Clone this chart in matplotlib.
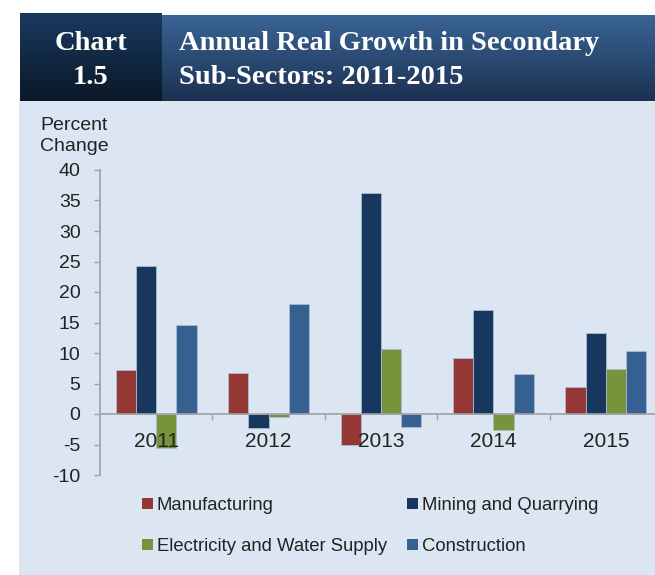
import numpy as np
import matplotlib
matplotlib.use("Agg")
import matplotlib.pyplot as plt
from matplotlib.colors import LinearSegmentedColormap
from matplotlib.patches import Rectangle, Patch

years = ["2011", "2012", "2013", "2014", "2015"]
series_names = ["Manufacturing", "Mining and Quarrying",
                "Electricity and Water Supply", "Construction"]
manufacturing = [7.2, 6.8, -5.1, 9.2, 4.4]
mining = [24.2, -2.3, 36.2, 17.0, 13.3]
electricity = [-5.6, -0.55, 10.7, -2.7, 7.4]
construction = [14.6, 18.1, -2.1, 6.6, 10.3]
colors = ["#953735", "#17375e", "#77933c", "#376092"]

plt.rcParams["font.family"] = ["Liberation Sans", "DejaVu Sans"]
plt.rcParams["axes.unicode_minus"] = False

W, H = 655, 575
fig = plt.figure(figsize=(W / 100, H / 100), dpi=100)
fig.patch.set_facecolor("white")


def fbox(x0, y0, x1, y1):
    # pixel box (top-left origin) -> figure fraction rect
    return [x0 / W, 1 - y1 / H, (x1 - x0) / W, (y1 - y0) / H]


# light panel behind the chart
fig.patches.append(Rectangle((19 / W, 0), 1 - 19 / W, 1 - 101 / H,
                             transform=fig.transFigure, facecolor="#dce6f2",
                             edgecolor="none", zorder=-5))


def gradient_box(rect, top, bottom):
    gax = fig.add_axes(rect)
    cmap = LinearSegmentedColormap.from_list("g", [top, bottom])
    grad = np.linspace(0, 1, 100).reshape(-1, 1)
    gax.imshow(grad, aspect="auto", cmap=cmap, extent=[0, 1, 1, 0])
    gax.set_axis_off()
    return gax


gradient_box(fbox(162, 15, 655, 101), "#3a6496", "#1b3150")
gradient_box(fbox(20, 13, 162, 101), "#193a60", "#0b1828")

hdr = dict(color="white", fontsize=20.5, fontweight="bold",
           family=["Liberation Serif", "DejaVu Serif"], va="center")
fig.text(91 / W, 1 - 43 / H, "Chart", ha="center", **hdr)
fig.text(91 / W, 1 - 77 / H, "1.5", ha="center", **hdr)
fig.text(179 / W, 1 - 43 / H, "Annual Real Growth in Secondary", ha="left", **hdr)
fig.text(179 / W, 1 - 77 / H, "Sub-Sectors: 2011-2015", ha="left", **hdr)

# main chart
ax = fig.add_axes(fbox(100, 170, 662, 475))
ax.set_facecolor("none")
ax.set_axisbelow(False)  # year labels sit on top of the bars
x = np.arange(len(years))
bw = 0.18
for j, vals in enumerate([manufacturing, mining, electricity, construction]):
    ax.bar(x + (j - 1.5) * bw, vals, width=bw, color=colors[j],
           edgecolor="#a9bcd3", linewidth=0.6, zorder=1)

ax.set_xlim(-0.5, 4.5)
ax.set_ylim(-10, 40)
ax.set_yticks(np.arange(-10, 41, 5))
ax.tick_params(axis="y", direction="out", length=4, width=1,
               color="#a0a0a0", labelsize=14, labelcolor="#222222", pad=10)

ax.spines["top"].set_visible(False)
ax.spines["right"].set_visible(False)
ax.spines["bottom"].set_position(("data", 0))
for s in ["left", "bottom"]:
    ax.spines[s].set_color("#a0a0a0")
    ax.spines[s].set_linewidth(1.2)
ax.spines["bottom"].set_zorder(3)

ax.set_xticks(x[:-1] + 0.5)
ax.set_xticklabels([])
ax.tick_params(axis="x", which="major", direction="out", length=4,
               width=1, color="#a0a0a0")
ax.set_xticks(x, minor=True)
ax.set_xticklabels(years, minor=True)
ax.tick_params(axis="x", which="minor", length=0, labelsize=15,
               labelcolor="#222222", pad=13)

fig.text(40 / W, 1 - 136 / H, "Percent\nChange", ha="left", va="center",
         fontsize=14, color="#222222", linespacing=1.25)

handles = [Patch(facecolor=colors[k], edgecolor="none") for k in [0, 2, 1, 3]]
labels = [series_names[k] for k in [0, 2, 1, 3]]
fig.legend(handles, labels, ncol=2, loc="upper left",
           bbox_to_anchor=(142 / W, 1 - 497 / H), frameon=False,
           fontsize=13.3, handlelength=0.6, handleheight=0.6,
           handletextpad=0.2, columnspacing=1.1, labelspacing=1.3,
           borderaxespad=0, borderpad=0, labelcolor="#222222")

fig.savefig("out.png", dpi=100)
